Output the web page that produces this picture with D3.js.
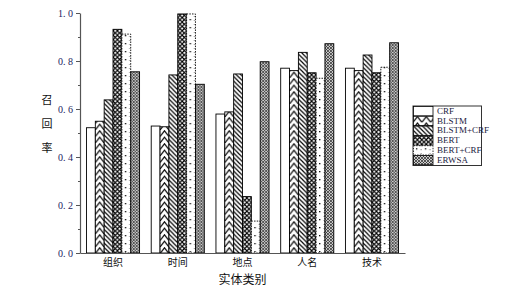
<!DOCTYPE html>
<html>
<head>
<meta charset="utf-8">
<script src="https://cdn.jsdelivr.net/npm/d3@7"></script>
<style>
  body { margin: 0; background: #fff; }
  svg { display: block; }
</style>
</head>
<body>
<svg id="chart" width="515" height="289"></svg>
<script>
const categories = ["组织", "时间", "地点", "人名", "技术"];
const models = ["CRF", "BLSTM", "BLSTM+CRF", "BERT", "BERT+CRF", "ERWSA"];
// recall per model, in category order
const crf      = [0.522, 0.529, 0.579, 0.770, 0.770];
const blstm    = [0.549, 0.526, 0.588, 0.760, 0.760];
const blstmCrf = [0.638, 0.742, 0.746, 0.836, 0.825];
const bert     = [0.932, 0.996, 0.235, 0.751, 0.751];
const bertCrf  = [0.912, 0.996, 0.133, 0.728, 0.774];
const erwsa    = [0.755, 0.703, 0.797, 0.872, 0.876];
const yTicks = [0, 0.2, 0.4, 0.6, 0.8, 1.0];
const yMinor = [0.1, 0.3, 0.5, 0.7, 0.9];

const seriesValues = [crf, blstm, blstmCrf, bert, bertCrf, erwsa];
const fills = ["#fff", "url(#p-chev)", "url(#p-diag)", "url(#p-cross)", "url(#p-dots)", "url(#p-fine)"];

const svg = d3.select("#chart");
const defs = svg.append("defs");

// chevrons (BLSTM)
const chev = defs.append("pattern").attr("id", "p-chev").attr("patternUnits", "userSpaceOnUse")
  .attr("width", 8.85).attr("height", 6.5);
chev.append("rect").attr("width", 8.85).attr("height", 6.5).attr("fill", "#fff");
chev.append("path").attr("d", "M0,6.5 L4.42,0.8 L8.85,6.5").attr("fill", "none")
  .attr("stroke", "#000").attr("stroke-width", 1.2);

// back diagonals (BLSTM+CRF)
const diag = defs.append("pattern").attr("id", "p-diag").attr("patternUnits", "userSpaceOnUse")
  .attr("width", 4.5).attr("height", 4.5);
diag.append("rect").attr("width", 4.5).attr("height", 4.5).attr("fill", "#fff");
diag.append("path").attr("d", "M-1,-1 L5.5,5.5 M-1,3.5 L1,5.5 M3.5,-1 L5.5,1")
  .attr("stroke", "#000").attr("stroke-width", 1.2);

// cross hatch (BERT)
const cross = defs.append("pattern").attr("id", "p-cross").attr("patternUnits", "userSpaceOnUse")
  .attr("width", 4.4).attr("height", 4.4);
cross.append("rect").attr("width", 4.4).attr("height", 4.4).attr("fill", "#fff");
cross.append("path").attr("d", "M0,0 L4.4,4.4 M4.4,0 L0,4.4")
  .attr("stroke", "#000").attr("stroke-width", 1.1);

// sparse dots (BERT+CRF)
const dots = defs.append("pattern").attr("id", "p-dots").attr("patternUnits", "userSpaceOnUse")
  .attr("width", 8.85).attr("height", 8);
dots.append("rect").attr("width", 8.85).attr("height", 8).attr("fill", "#fff");
dots.append("rect").attr("x", 3).attr("y", 3).attr("width", 1.3).attr("height", 1.3).attr("fill", "#000");
dots.append("rect").attr("x", 7.6).attr("y", 0).attr("width", 0.9).attr("height", 0.9).attr("fill", "#333");
dots.append("rect").attr("x", 7.6).attr("y", 4).attr("width", 0.9).attr("height", 0.9).attr("fill", "#333");

// fine mesh (ERWSA)
const fine = defs.append("pattern").attr("id", "p-fine").attr("patternUnits", "userSpaceOnUse")
  .attr("width", 3).attr("height", 3);
fine.append("rect").attr("width", 3).attr("height", 3).attr("fill", "#ccc");
fine.append("path").attr("d", "M0,0 L3,3 M3,0 L0,3").attr("stroke", "#222").attr("stroke-width", 0.7);

const x = d3.scaleBand().domain(categories).range([80, 405]).paddingInner(0.18).paddingOuter(0.1);
const xs = d3.scaleBand().domain(models).range([0, x.bandwidth()]);
const y = d3.scaleLinear().domain([0, 1]).range([253, 13]);

// bars
const bars = [];
categories.forEach((c, ci) => {
  models.forEach((m, mi) => bars.push({ c, m, mi, v: seriesValues[mi][ci] }));
});

svg.append("g").selectAll("g").data(bars).join("g")
  .attr("transform", d => `translate(${x(d.c) + xs(d.m)},0)`)
  .append("rect")
  .attr("x", 0)
  .attr("y", d => y(d.v))
  .attr("width", xs.bandwidth())
  .attr("height", d => y(0) - y(d.v))
  .attr("fill", d => fills[d.mi])
  .attr("stroke", "#000")
  .attr("stroke-width", 0.9)
  .attr("stroke-dasharray", d => d.m === "BERT+CRF" ? "1.5,1.2" : null);

// axes
const tickFmt = d => d.toFixed(1).replace(".", ". ");
const yAxis = svg.append("g").attr("transform", "translate(80,0)")
  .call(d3.axisLeft(y).tickValues(yTicks).tickFormat(tickFmt).tickSize(4).tickSizeOuter(0).tickPadding(3));
svg.append("g").attr("transform", "translate(80,0)")
  .call(d3.axisLeft(y).tickValues(yMinor).tickFormat("").tickSize(2).tickSizeOuter(0))
  .call(g => g.select(".domain").remove());
yAxis.selectAll("text").attr("font-family", "'Liberation Serif', serif").attr("font-size", "10px")
  .attr("fill", "#1a1a60");

const xAxis = svg.append("g").attr("transform", "translate(0,253)")
  .call(d3.axisBottom(x).tickSize(0).tickSizeOuter(0).tickPadding(6));
xAxis.selectAll("text").attr("font-family", "'Noto Sans CJK SC', sans-serif").attr("font-size", "10px")
  .attr("fill", "#111");

svg.selectAll(".domain").attr("stroke", "#555").attr("stroke-width", 1.2);
svg.selectAll(".tick line").attr("stroke", "#555");

// axis titles
const yt = svg.append("text").attr("font-family", "'Noto Sans CJK SC', sans-serif")
  .attr("font-size", "11px").attr("fill", "#111").attr("text-anchor", "middle");
["召", "回", "率"].forEach((ch, i) => {
  yt.append("tspan").attr("x", 47).attr("y", 104 + i * 24).text(ch);
});
svg.append("text").attr("x", 242.5).attr("y", 284).attr("text-anchor", "middle")
  .attr("font-family", "'Noto Sans CJK SC', sans-serif").attr("font-size", "12px").attr("fill", "#111")
  .text("实体类别");

// legend
const lg = svg.append("g").attr("transform", "translate(413,106)");
lg.append("rect").attr("width", 68.5).attr("height", 59.5).attr("fill", "#fff")
  .attr("stroke", "#333").attr("stroke-width", 1);
models.forEach((m, i) => {
  const row = lg.append("g").attr("transform", `translate(0,${i * 9.8})`);
  row.append("rect").attr("x", 0.5).attr("y", 0.5).attr("width", 19.5).attr("height", 9.3)
    .attr("fill", fills[i]).attr("stroke", "#000").attr("stroke-width", 0.8)
    .attr("stroke-dasharray", m === "BERT+CRF" ? "1.5,1.2" : null);
  row.append("text").attr("x", 24).attr("y", 7.8)
    .attr("font-family", "'Liberation Serif', serif").attr("font-size", "9px")
    .attr("fill", "#1a1a40").text(m);
});
</script>
</body>
</html>
